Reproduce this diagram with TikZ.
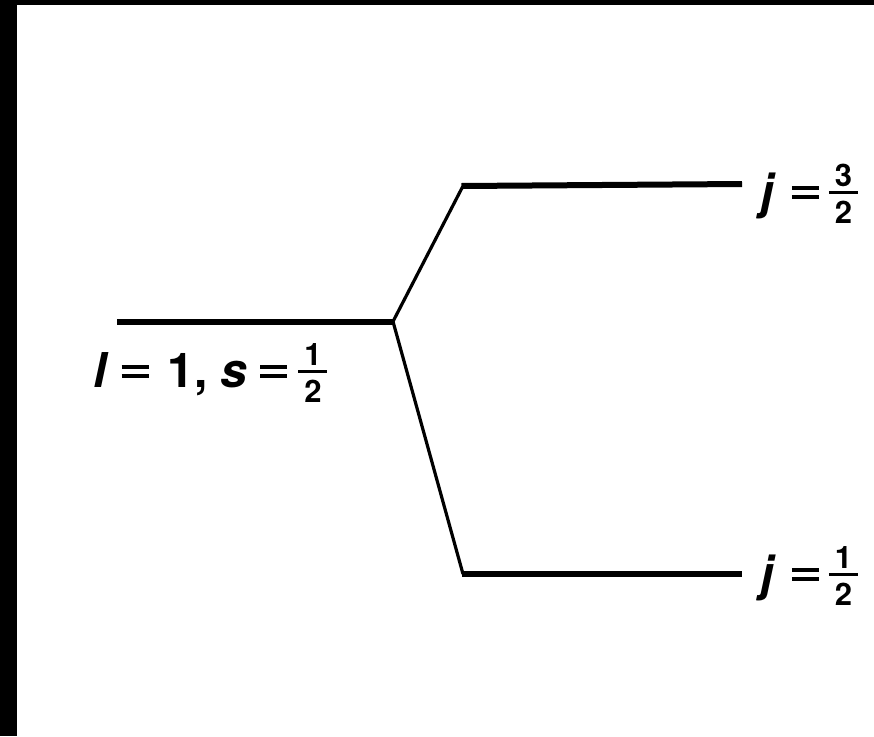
\documentclass[tikz,border=0pt]{standalone}
\usepackage{fontspec}
\setmainfont{TeX Gyre Heros}
\newcommand{\eqs}{\rule[9pt]{27pt}{4pt}\kern-27pt\rule[18pt]{27pt}{4pt}}
\newcommand{\fs}{\fontsize{31}{31}\selectfont}
\newcommand{\hf}[2]{\rule[14.5pt]{29pt}{2.2pt}\kern-29pt\makebox[29pt]{\raisebox{21.5pt}{\fs #1}}\kern-29pt\makebox[29pt]{\raisebox{-15pt}{\fs #2}}}
\begin{document}
\begin{tikzpicture}[x=1pt,y=-1pt,
  level/.style={line width=6pt},
  slant/.style={line width=3.2pt},
  lab/.style={font=\fontsize{48}{54}\selectfont\bfseries, inner sep=0pt, anchor=base west}]
\useasboundingbox (0,0) rectangle (874,736);
\fill[white] (0,0) rectangle (874,736);
\fill[black] (0,0) rectangle (17,736);
\fill[black] (0,0) rectangle (874,5);
\coordinate (a) at (117,321.5);
\coordinate (b) at (393,321.5);
\coordinate (c) at (463,186);
\coordinate (d) at (742,184);
\coordinate (e) at (463,574);
\coordinate (f) at (742,574);
\draw[level] (a) -- (b);
\draw[slant] (b) -- (c);
\draw[slant] (b) -- (e);
\draw[level] ([xshift=-1.5pt]c) -- (d);
\draw[level] ([xshift=-1.5pt]e) -- (f);
\node[lab] (l1) at (93,387) {\textit{l}\kern13pt\eqs\kern19pt 1,\kern13pt\textit{s}\kern13pt\eqs\kern11pt\hf{1}{2}};
\node[lab] (l2) at (760,208) {\textit{j}\kern16pt\eqs\kern10pt\hf{3}{2}};
\node[lab] (l3) at (760,590) {\textit{j}\kern16pt\eqs\kern10pt\hf{1}{2}};
\end{tikzpicture}
\end{document}
